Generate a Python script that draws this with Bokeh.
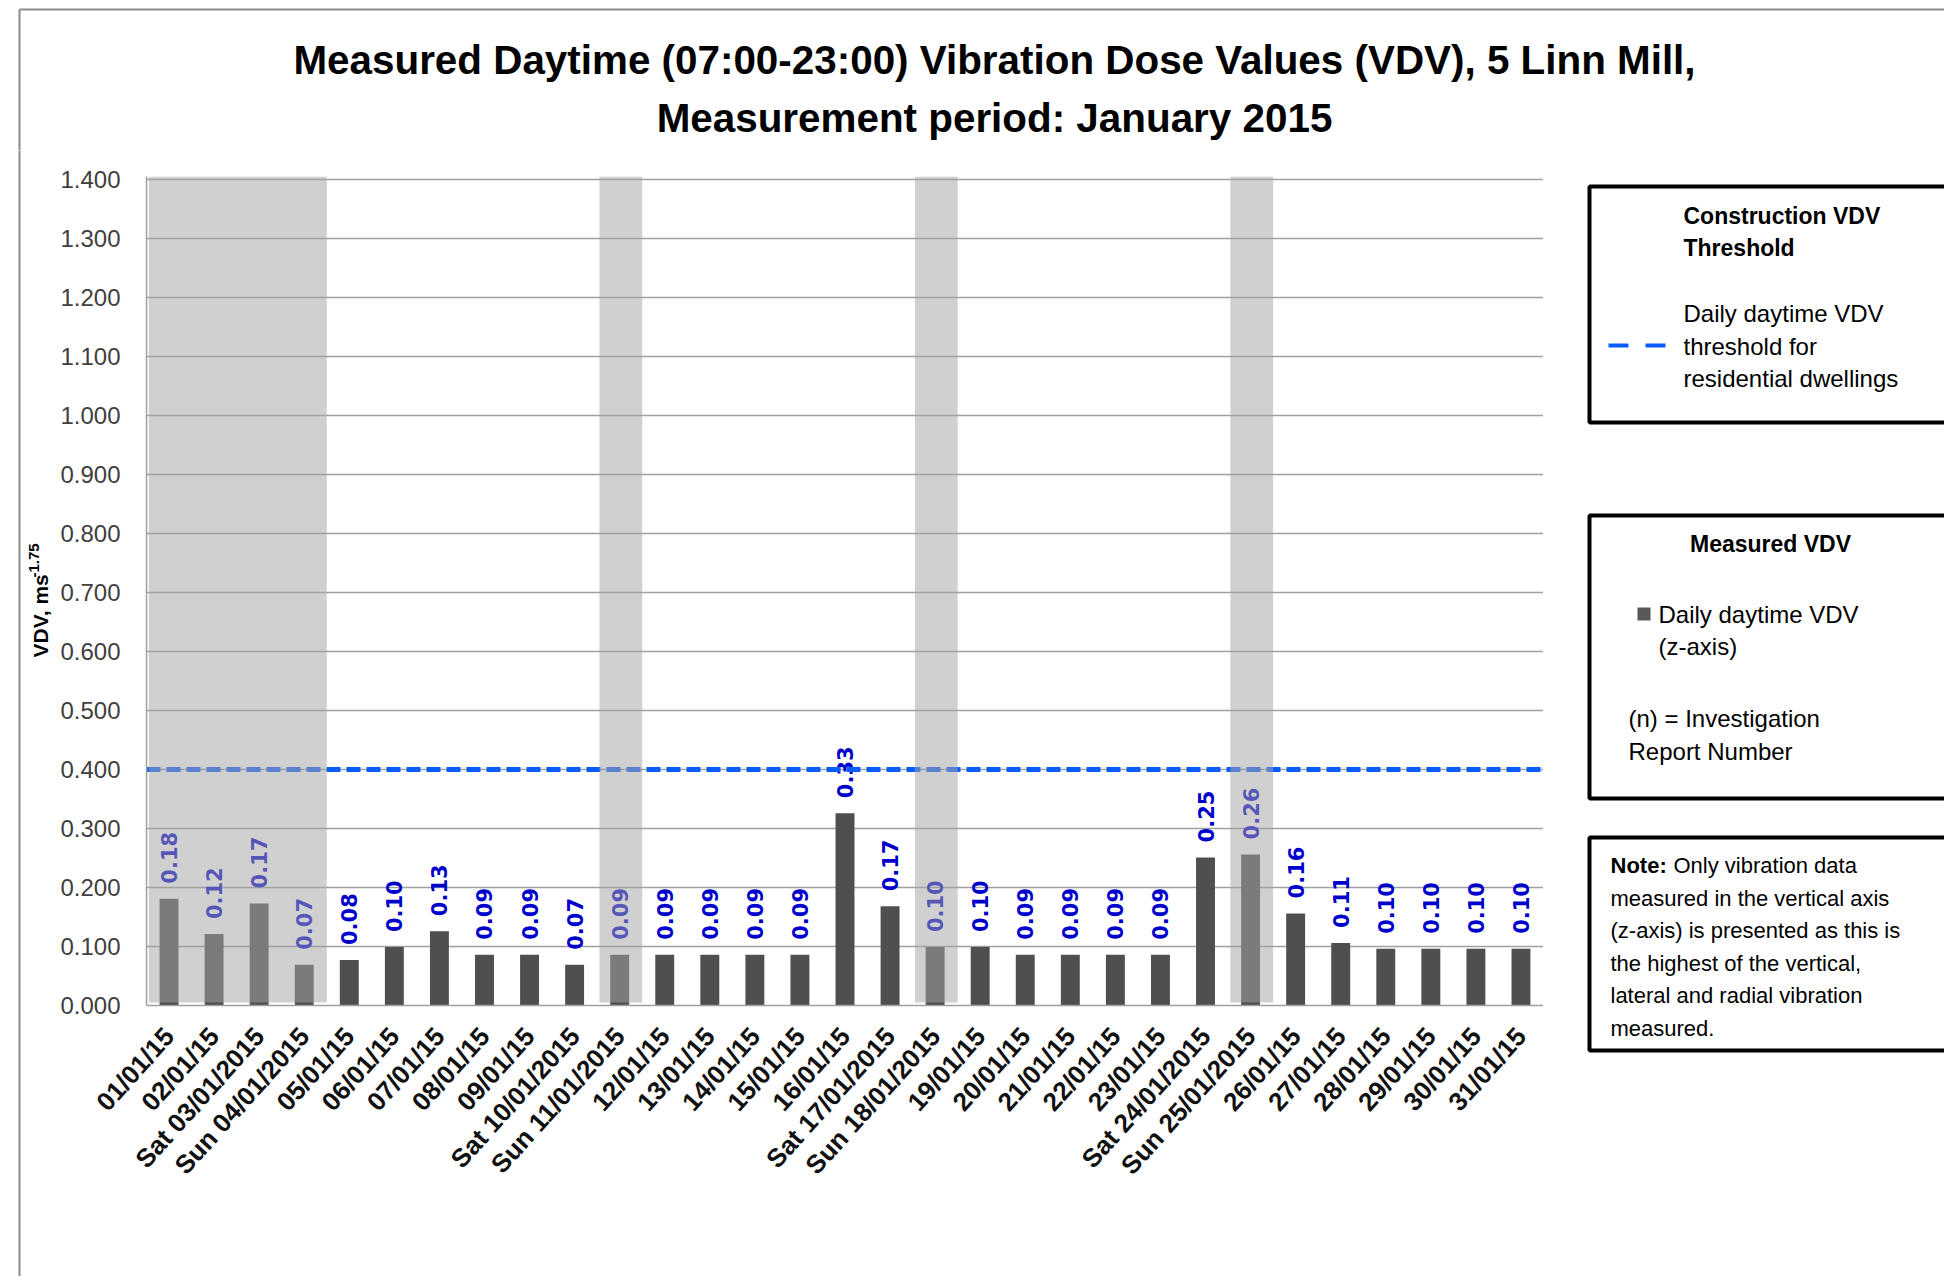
import numpy as np
from math import pi
from bokeh.plotting import figure
from bokeh.layouts import row, column
from bokeh.models import Range1d, FixedTicker, NumeralTickFormatter
from bokeh.core.properties import value
from bokeh.embed import file_html
from bokeh.resources import INLINE

# ---------------- data ----------------
title_lines = ["Measured Daytime (07:00-23:00) Vibration Dose Values (VDV), 5 Linn Mill,",
               "Measurement period: January 2015"]
y_axis_label = "VDV, ms"
y_axis_label_sup = "-1.75"

dates = ["01/01/15", "02/01/15", "Sat 03/01/2015", "Sun 04/01/2015", "05/01/15", "06/01/15",
         "07/01/15", "08/01/15", "09/01/15", "Sat 10/01/2015", "Sun 11/01/2015", "12/01/15",
         "13/01/15", "14/01/15", "15/01/15", "16/01/15", "Sat 17/01/2015", "Sun 18/01/2015",
         "19/01/15", "20/01/15", "21/01/15", "22/01/15", "23/01/15", "Sat 24/01/2015",
         "Sun 25/01/2015", "26/01/15", "27/01/15", "28/01/15", "29/01/15", "30/01/15", "31/01/15"]
vdv = [0.181, 0.121, 0.173, 0.069, 0.077, 0.099, 0.126, 0.086, 0.086, 0.069, 0.086, 0.086,
       0.086, 0.086, 0.086, 0.326, 0.168, 0.099, 0.099, 0.086, 0.086, 0.086, 0.086, 0.251,
       0.256, 0.156, 0.106, 0.096, 0.096, 0.096, 0.096]
shaded_days = ["01/01/15", "02/01/15", "Sat 03/01/2015", "Sun 04/01/2015",
               "Sun 11/01/2015", "Sun 18/01/2015", "Sun 25/01/2015"]
threshold = 0.4
y_ticks = [0.0, 0.1, 0.2, 0.3, 0.4, 0.5, 0.6, 0.7, 0.8, 0.9, 1.0, 1.1, 1.2, 1.3, 1.4]

legend1_title = ["Construction VDV", "Threshold"]
legend1_text = ["Daily daytime VDV", "threshold for", "residential dwellings"]
legend2_title = "Measured VDV"
legend2_text = ["Daily daytime VDV", "(z-axis)"]
legend2_note = ["(n) = Investigation", "Report Number"]
note_bold = "Note:"
note_lines = ["Only vibration data", "measured in the vertical axis",
              "(z-axis) is presented as this is", "the highest of the vertical,",
              "lateral and radial vibration", "measured."]

# ---------------- page geometry (px) ----------------
PAGE_W, PAGE_H = 1944, 1276
TITLE_H = 150
LEFT_W = 56
F_LEFT, F_RIGHT, F_TOP, F_BOTTOM = 146, 1543, 176, 1005
FONT = "Liberation Sans"
BLUE = "#0a5cff"
FRAME_GRAY = "#8c8c8c"


def blank(w, h, x0, x1, y0, y1):
    f = figure(width=w, height=h, x_range=Range1d(x0, x1), y_range=Range1d(y1, y0),
               output_backend="svg", toolbar_location=None,
               x_axis_location=None, y_axis_location=None, min_border=0)
    f.grid.visible = False
    f.outline_line_color = None
    f.background_fill_color = "white"
    f.border_fill_color = "white"
    return f


def write(f, x, y, texts, size, bold=False, align="left", dy=0.0, angle=0.0, color="black"):
    if isinstance(texts, str):
        texts = [texts]
    f.text(x=[x] * len(texts), y=[y + dy * i for i in range(len(texts))], text=texts,
           text_font=value(FONT), text_font_size=size,
           text_font_style="bold" if bold else "normal", text_align=align,
           text_baseline="middle", angle=angle, text_color=color)


# ---------------- title strip ----------------
t = blank(PAGE_W, TITLE_H, 0, PAGE_W, 0, TITLE_H)
t.segment(x0=[19, 19], y0=[9, 9], x1=[PAGE_W + 10, 19], y1=[9, TITLE_H + 5],
          line_color=FRAME_GRAY, line_width=2)
write(t, 994, 59, title_lines, "40.4px", bold=True, align="center", dy=58)

# ---------------- left strip (frame line + axis label) ----------------
lft = blank(LEFT_W, PAGE_H - TITLE_H, 0, LEFT_W, TITLE_H, PAGE_H)
lft.segment(x0=[19], y0=[TITLE_H - 5], x1=[19], y1=[PAGE_H + 5], line_color=FRAME_GRAY,
            line_width=2)
write(lft, 40, 657, y_axis_label, "21px", bold=True, angle=pi / 2)
write(lft, 33, 577, y_axis_label_sup, "15px", bold=True, angle=pi / 2)

# ---------------- main chart ----------------
xs = np.arange(len(dates)) + 0.5
labels = [f"{v:.2f}" for v in vdv]

idx = sorted(dates.index(d) for d in shaded_days)
runs = []
for i in idx:
    if runs and runs[-1][1] == i - 1:
        runs[-1][1] = i
    else:
        runs.append([i, i])
run_left = [a + 0.05 for a, b in runs]
run_right = [b + 1.0 for a, b in runs]

main_w = F_RIGHT - LEFT_W
main_h = PAGE_H - TITLE_H
p = figure(width=main_w, height=main_h,
           x_range=Range1d(0, len(dates)), y_range=Range1d(0, 1.405),
           output_backend="svg", toolbar_location=None,
           min_border_left=F_LEFT - LEFT_W, min_border_right=0,
           min_border_top=F_TOP - TITLE_H, min_border_bottom=PAGE_H - F_BOTTOM)
p.outline_line_color = None
p.background_fill_color = "white"
p.border_fill_color = "white"

p.xgrid.visible = False
p.ygrid.grid_line_color = "#a0a0a0"
p.ygrid.grid_line_width = 1.5
p.ygrid.ticker = FixedTicker(ticks=y_ticks)

p.yaxis.ticker = FixedTicker(ticks=y_ticks, minor_ticks=[])
p.yaxis.formatter = NumeralTickFormatter(format="0.000")
p.yaxis.axis_line_color = "#a0a0a0"
p.yaxis.axis_line_width = 1.5
p.yaxis.major_tick_line_color = None
p.yaxis.minor_tick_line_color = None
p.yaxis.major_tick_out = 0
p.yaxis.major_tick_in = 0
p.yaxis.major_label_standoff = 26
p.yaxis.major_label_text_font = FONT
p.yaxis.major_label_text_font_size = "24px"
p.yaxis.major_label_text_color = "#404040"

p.xaxis.ticker = FixedTicker(ticks=list(xs), minor_ticks=[])
p.xaxis.major_label_overrides = {float(x): d for x, d in zip(xs, dates)}
p.xaxis.major_label_orientation = 0.838
p.xaxis.axis_line_color = "#a0a0a0"
p.xaxis.axis_line_width = 1.5
p.xaxis.major_tick_line_color = None
p.xaxis.minor_tick_line_color = None
p.xaxis.major_tick_out = 0
p.xaxis.major_tick_in = 0
p.xaxis.major_label_standoff = 26
p.xaxis.major_label_text_font = FONT
p.xaxis.major_label_text_font_style = "bold"
p.xaxis.major_label_text_font_size = "26px"
p.xaxis.major_label_text_color = "#111111"

p.vbar(x=xs, top=vdv, width=0.42, fill_color="#4f4f4f", line_color=None)
p.text(x=xs, y=vdv, text=labels, angle=pi / 2, text_align="left", text_baseline="middle",
       y_offset=-15, text_font=value("DejaVu Sans"), text_font_style="bold",
       text_font_size="21px", text_color="#0000cc")
p.hspan(y=[threshold], line_color=BLUE, line_width=5, line_dash="14 6")
p.quad(left=run_left, right=run_right, bottom=0.005, top=1.405,
       fill_color="#a4a4a4", fill_alpha=0.52, line_color=None)

# ---------------- legend / notes strip ----------------
lg = blank(PAGE_W - F_RIGHT, PAGE_H - TITLE_H, F_RIGHT, PAGE_W, TITLE_H, PAGE_H)
lg.quad(left=[1589, 1589, 1589], right=[PAGE_W + 20] * 3, top=[186, 515, 837],
        bottom=[422, 798, 1050], fill_color=None, line_color="black", line_width=4)
write(lg, 1683, 215, legend1_title, "23px", bold=True, dy=32)
lg.line(x=[1608, 1665], y=[345, 345], line_color=BLUE, line_width=4, line_dash="20 17")
write(lg, 1683, 313, legend1_text, "24px", dy=32.5)

write(lg, 1770, 543, legend2_title, "23px", bold=True, align="center")
lg.scatter(x=[1643.5], y=[613.5], marker="square", size=13, fill_color="#595959",
           line_color=None)
write(lg, 1658, 614, legend2_text, "24px", dy=31.5)
write(lg, 1628, 718, legend2_note, "24px", dy=32.5)

write(lg, 1610, 865, note_bold, "22px", bold=True)
write(lg, 1673, 865, note_lines[0], "22px")
write(lg, 1610, 865 + 32.6, note_lines[1:], "22px", dy=32.6)

layout = column(t, row(column(lft), p, column(lg)))
open("out.html", "w").write(file_html(layout, INLINE))
